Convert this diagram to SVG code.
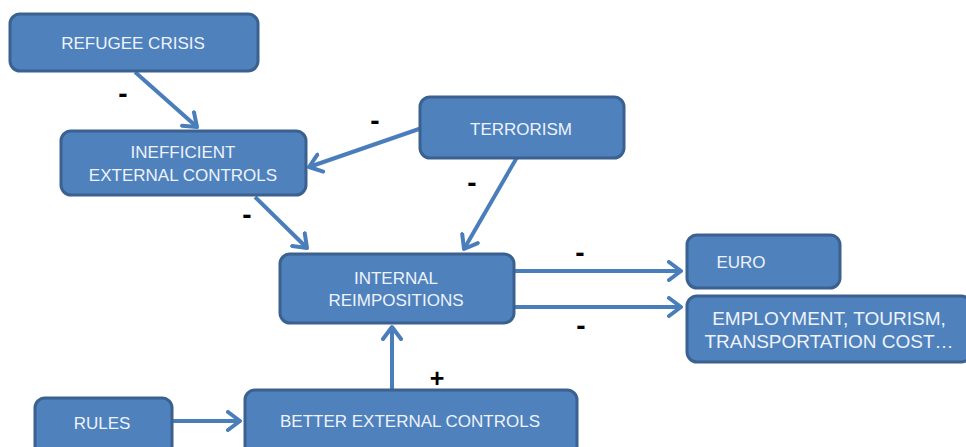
<svg xmlns="http://www.w3.org/2000/svg" width="966" height="447" viewBox="0 0 966 447">
<style>
.box{fill:#4F81BD;stroke:#3A6190;stroke-width:3}
.t{font-family:"Liberation Sans",Arial,sans-serif;font-size:17px;fill:#EEF3FA;text-anchor:middle;dominant-baseline:central}
.e{font-size:19px}
.c{fill:none;stroke:#4A7EBB;stroke-width:4}
.s{font-family:"Liberation Sans",Arial,sans-serif;font-size:28px;font-weight:bold;fill:#000;text-anchor:middle;dominant-baseline:central}
.p{font-size:25px}
</style>
<defs>
<marker id="a" markerUnits="userSpaceOnUse" viewBox="-14 -11 17 22" markerWidth="17" markerHeight="22" refX="0" refY="0" orient="auto">
<path d="M-12,-9 L0,0 L-12,9" fill="none" stroke="#4A7EBB" stroke-width="4" stroke-linecap="round" stroke-linejoin="round"/>
</marker>
</defs>
<rect width="966" height="447" fill="#fff"/>
<g id="connectors">
<line class="c" x1="135" y1="72" x2="197" y2="127" marker-end="url(#a)"/>
<line class="c" x1="445" y1="120" x2="309" y2="167" marker-end="url(#a)"/>
<line class="c" x1="527" y1="140" x2="464" y2="249" marker-end="url(#a)"/>
<line class="c" x1="255" y1="197" x2="307" y2="248" marker-end="url(#a)"/>
<line class="c" x1="513" y1="271" x2="681" y2="271" marker-end="url(#a)"/>
<line class="c" x1="513" y1="307" x2="681" y2="307" marker-end="url(#a)"/>
<line class="c" x1="392" y1="390" x2="392" y2="327" marker-end="url(#a)"/>
<line class="c" x1="172" y1="421" x2="240" y2="421" marker-end="url(#a)"/>
<text class="s" x="123" y="93">-</text>
<text class="s" x="375" y="120">-</text>
<text class="s" x="472" y="182">-</text>
<text class="s" x="247" y="214">-</text>
<text class="s" x="580" y="252">-</text>
<text class="s" x="581" y="325">-</text>
<text class="s p" x="437" y="378">+</text>
</g>
<g id="refugee"><rect class="box" x="10" y="14" width="248" height="57" rx="10"/><text class="t" x="133" y="43">REFUGEE CRISIS</text></g>
<g id="inefficient"><rect class="box" x="61" y="131" width="245" height="64" rx="10"/><text class="t" x="183" y="152">INEFFICIENT</text><text class="t" x="183" y="175">EXTERNAL CONTROLS</text></g>
<g id="terrorism"><rect class="box" x="420" y="97" width="204" height="61" rx="10"/><text class="t" x="521" y="129">TERRORISM</text></g>
<g id="internal"><rect class="box" x="280" y="254" width="234" height="69" rx="10"/><text class="t" x="396" y="278">INTERNAL</text><text class="t" x="396" y="300">REIMPOSITIONS</text></g>
<g id="euro"><rect class="box" x="687" y="235" width="153" height="53" rx="10"/><text class="t" x="741" y="262">EURO</text></g>
<g id="employment"><rect class="box" x="687" y="296" width="284" height="66" rx="10"/><text class="t e" x="829" y="318">EMPLOYMENT, TOURISM,</text><text class="t e" x="829" y="341">TRANSPORTATION COST…</text></g>
<g id="rules"><rect class="box" x="35" y="398" width="137" height="60" rx="10"/><text class="t" x="102" y="423">RULES</text></g>
<g id="better"><rect class="box" x="245" y="390" width="332" height="68" rx="10"/><text class="t" x="410" y="421">BETTER EXTERNAL CONTROLS</text></g>
</svg>
